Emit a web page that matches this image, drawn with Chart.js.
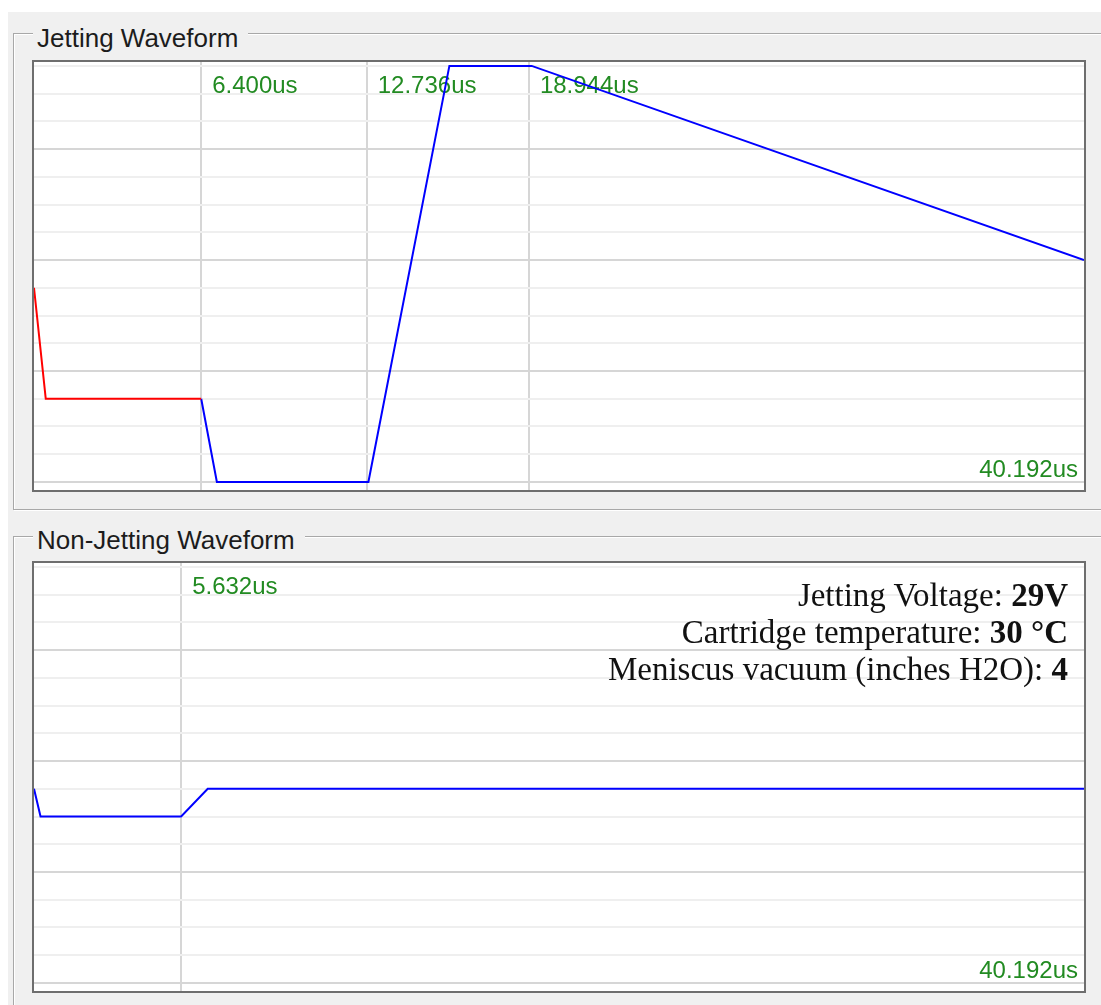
<!DOCTYPE html>
<html>
<head>
<meta charset="utf-8">
<script src="https://cdn.jsdelivr.net/npm/chart.js@4.4.1/dist/chart.umd.min.js"></script>
<style>
    html, body { margin: 0; padding: 0; background: #fff; overflow: hidden; width: 1101px; height: 1005px; }
    .panel { position: absolute; left: 8px; top: 12px; right: 0; bottom: 0; background: #f0f0f0; }
    .group { position: absolute; border: 1px solid #a8a8a8; box-shadow: 1px 1px 0 #fff, inset 1px 1px 0 #fff; }
    .title { position: absolute; background: #f0f0f0; font: 26px "Liberation Sans", Arial, sans-serif; line-height: 30px; color: #1c1c1c; padding: 0 10px 0 4px; }
    .plot { position: absolute; width: 1054px; height: 432px; box-sizing: border-box; border: 2px solid #6e6e6e; background: #fff; }
    .plot canvas { display: block; }
    .info { position: absolute; left: 440px; top: 577px; width: 628px; text-align: right; font: 33px "Liberation Serif", "Times New Roman", serif; line-height: 37px; color: #111; }
</style>
</head>
<body>
<div class="panel"></div>
<div class="group" style="left:13px; top:33px; width:1110px; height:475px;"></div>
<div class="title" style="left:33px; top:23px;">Jetting Waveform</div>
<div class="group" style="left:13px; top:536px; width:1110px; height:500px;"></div>
<div class="title" style="left:33px; top:525px;">Non-Jetting Waveform</div>

<div class="plot" style="left:32px; top:60px;"><canvas id="jettingChart" width="1050" height="428"></canvas></div>
<div class="plot" style="left:32px; top:561px;"><canvas id="nonJettingChart" width="1050" height="428"></canvas></div>

<div class="info" id="info"></div>

<script>
// time axis (us)
const xMax = 40.192;

// level axis, one grid line per 10
const yMin = -2.9;
const yMax = 151.4;
const yGrid = [0, 10, 20, 30, 40, 50, 60, 70, 80, 90, 100, 110, 120, 130, 140, 150];

// jetting waveform: red lead-in, then blue pulse
const jetRedX = [0, 0.45, 6.4];
const jetRedY = [70, 30, 30];
const jetBlueX = [6.4, 7.0, 12.8, 15.9, 19.05, 40.192];
const jetBlueY = [30, 0, 0, 150, 150, 80];
const jetMarkers = [6.4, 12.736, 18.944];

// non-jetting waveform
const nonJetX = [0, 0.25, 5.632, 6.65, 40.192];
const nonJetY = [70, 60, 60, 70, 70];
const nonJetMarkers = [5.632];

// settings text
const infoLabels = ["Jetting Voltage:", "Cartridge temperature:", "Meniscus vacuum (inches H2O):"];
const infoValues = ["29V", "30 °C", "4"];

const green = "#228b22";

function toPoints(xs, ys) {
    return xs.map((x, i) => ({ x: x, y: ys[i] }));
}

// marker labels ("6.400us" ...) next to the vertical lines, end time bottom right
const markerLabels = {
    id: "markerLabels",
    beforeDatasetsDraw(chart) {
        const ctx = chart.ctx;
        const area = chart.chartArea;
        const xs = chart.scales.x;
        ctx.save();
        ctx.font = '24px "Liberation Sans", Arial, sans-serif';
        ctx.fillStyle = green;
        ctx.textBaseline = "alphabetic";
        ctx.textAlign = "left";
        chart.options.plugins.markerLabels.markers.forEach(m => {
            ctx.fillText(m.toFixed(3) + "us", xs.getPixelForValue(m) + 11, area.top + 31);
        });
        ctx.textAlign = "right";
        ctx.fillText(xMax.toFixed(3) + "us", area.right - 6, area.bottom - 13);
        ctx.restore();
    }
};

function makeChart(id, datasets, markers) {
    return new Chart(document.getElementById(id), {
        type: "line",
        data: { datasets: datasets },
        options: {
            responsive: false,
            animation: false,
            events: [],
            layout: { padding: 0 },
            plugins: {
                legend: { display: false },
                tooltip: { enabled: false },
                markerLabels: { markers: markers }
            },
            scales: {
                x: {
                    type: "linear",
                    min: 0,
                    max: xMax,
                    afterBuildTicks: s => { s.ticks = markers.map(v => ({ value: v })); },
                    ticks: { display: false },
                    grid: { color: "#d6d6d6", lineWidth: 2, drawTicks: false },
                    border: { display: false }
                },
                y: {
                    type: "linear",
                    min: yMin,
                    max: yMax,
                    afterBuildTicks: s => { s.ticks = yGrid.map(v => ({ value: v })); },
                    ticks: { display: false },
                    grid: {
                        color: c => (c.tick && c.tick.value % 40 === 0) ? "#d6d6d6" : "#efefef",
                        lineWidth: 2,
                        drawTicks: false
                    },
                    border: { display: false }
                }
            }
        },
        plugins: [markerLabels]
    });
}

function line(xs, ys, color) {
    return {
        data: toPoints(xs, ys),
        borderColor: color,
        backgroundColor: "transparent",
        borderWidth: 2,
        pointRadius: 0,
        tension: 0
    };
}

makeChart("jettingChart", [
    line(jetRedX, jetRedY, "#ff0000"),
    line(jetBlueX, jetBlueY, "#0000ff")
], jetMarkers);

makeChart("nonJettingChart", [
    line(nonJetX, nonJetY, "#0000ff")
], nonJetMarkers);

const info = document.getElementById("info");
infoLabels.forEach((label, i) => {
    const row = document.createElement("div");
    row.appendChild(document.createTextNode(label + " "));
    const b = document.createElement("b");
    b.textContent = infoValues[i];
    row.appendChild(b);
    info.appendChild(row);
});
</script>
</body>
</html>
